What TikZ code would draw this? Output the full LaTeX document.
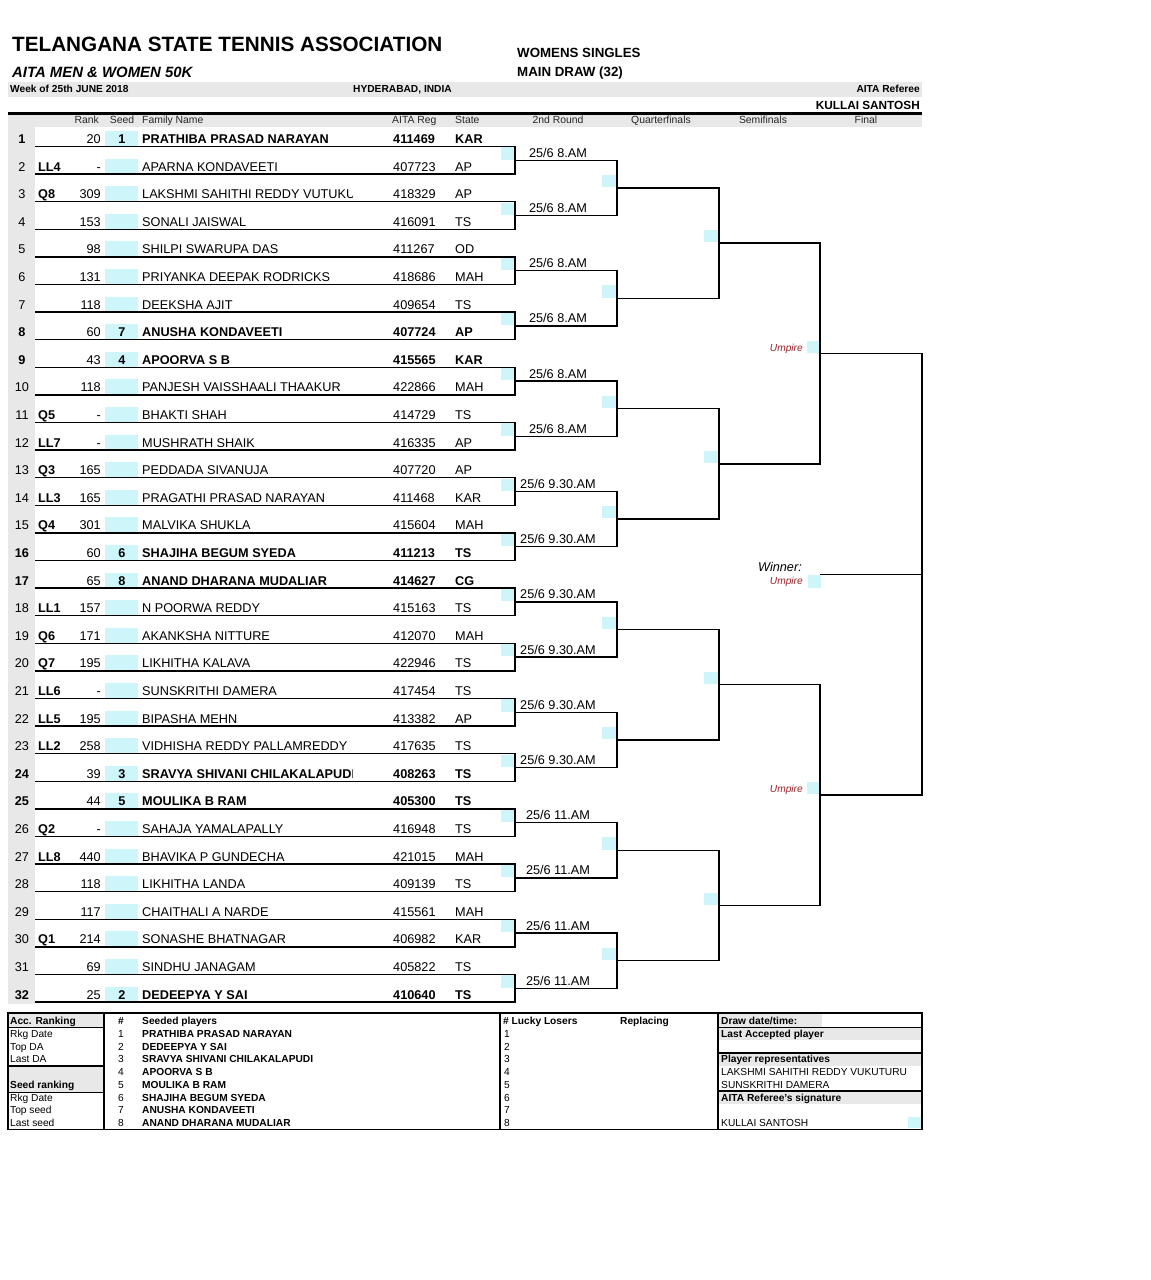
\documentclass[tikz,border=0pt]{standalone}
\usepackage{fontspec}
\setmainfont{Liberation Sans}
\definecolor{seedcyan}{RGB}{205,245,250}
\definecolor{bandgray}{RGB}{232,232,232}
\definecolor{umpred}{RGB}{155,35,45}
\tikzstyle{bline} = [line width=1.5pt, line join=miter]
\tikzstyle{cbox} = [fill=seedcyan]
\newcommand\rowfont{\fontsize{12.7}{15}\selectfont}
\newcommand\hdfont{\fontsize{10.4}{12}\selectfont}
\newcommand\ftfont{\fontsize{10.2}{12}\selectfont}

\begin{document}
\begin{tikzpicture}[x=1pt, y=-1pt,
  cell/.style={inner sep=0pt, text height=9.1pt, text depth=0pt, font=\rowfont},
  hcell/.style={inner sep=0pt, text height=7.4pt, text depth=0pt, font=\hdfont, text=black!85},
  fcell/.style={inner sep=0pt, text height=7.3pt, text depth=0pt, font=\ftfont},
  ump/.style={inner sep=0pt, text height=7.3pt, text depth=0pt, anchor=east, font=\ftfont\itshape, text=umpred}]
\useasboundingbox (0,0) rectangle (1151,1280);
\fill[white] (0,0) rectangle (1151,1280);

% Title block
\node[inner sep=0pt, text height=14.8pt, text depth=0pt, anchor=west, font=\fontsize{20.7}{24}\selectfont\bfseries] (title) at (12,44) {TELANGANA STATE TENNIS ASSOCIATION};
\node[inner sep=0pt, text height=10.7pt, text depth=0pt, anchor=west, font=\fontsize{14.9}{18}\selectfont\bfseries\itshape] (event) at (12,72) {AITA MEN \& WOMEN 50K};
\node[inner sep=0pt, text height=9.5pt, text depth=0pt, anchor=west, font=\fontsize{13.3}{16}\selectfont\bfseries] (draw) at (517,53) {WOMENS SINGLES};
\node[inner sep=0pt, text height=9.5pt, text depth=0pt, anchor=west, font=\fontsize{13.3}{16}\selectfont\bfseries] (size) at (517,72) {MAIN DRAW (32)};

% Bands
\fill[bandgray] (8,82) rectangle (922,97);
\fill[bandgray] (8,114) rectangle (922,127);
\fill[bandgray] (8,127) rectangle (35,1004);
\draw[line width=3pt] (8,113) -- (922,113);
\node[fcell, anchor=west, font=\ftfont\bfseries] (week) at (10,89) {Week of 25th JUNE 2018};
\node[fcell, anchor=west, font=\ftfont\bfseries] (city) at (353,89) {HYDERABAD, INDIA};
\node[fcell, anchor=east, font=\ftfont\bfseries] (ref) at (920,89) {AITA Referee};
\node[inner sep=0pt, text height=8.5pt, text depth=0pt, anchor=east, font=\fontsize{11.8}{14}\selectfont\bfseries] (refname) at (920,105) {KULLAI SANTOSH};

% Column heads
\node[hcell, anchor=east] (hrank) at (99,120) {Rank};
\node[hcell] (hseed) at (122,120) {Seed};
\node[hcell, anchor=west] (hname) at (142,120) {Family Name};
\node[hcell, anchor=west] (hreg) at (392,120) {AITA Reg};
\node[hcell, anchor=west] (hstate) at (455,120) {State};
\node[hcell] (hr2) at (558,120) {2nd Round};
\node[hcell] (hqf) at (661,120) {Quarterfinals};
\node[hcell] (hsf) at (763,120) {Semifinals};
\node[hcell] (hf) at (866,120) {Final};

% Players
\foreach \n/\st/\rk/\sd/\nm/\reg/\sta/\f in {
  1/{}/20/1/PRATHIBA PRASAD NARAYAN/411469/KAR/\bfseries,
  2/LL4/-/{}/APARNA KONDAVEETI/407723/AP/\mdseries,
  3/Q8/309/{}/LAKSHMI SAHITHI REDDY VUTUKURU/418329/AP/\mdseries,
  4/{}/153/{}/SONALI JAISWAL/416091/TS/\mdseries,
  5/{}/98/{}/SHILPI SWARUPA DAS/411267/OD/\mdseries,
  6/{}/131/{}/PRIYANKA DEEPAK RODRICKS/418686/MAH/\mdseries,
  7/{}/118/{}/DEEKSHA AJIT/409654/TS/\mdseries,
  8/{}/60/7/ANUSHA KONDAVEETI/407724/AP/\bfseries,
  9/{}/43/4/APOORVA S B/415565/KAR/\bfseries,
  10/{}/118/{}/PANJESH VAISSHAALI THAAKUR/422866/MAH/\mdseries,
  11/Q5/-/{}/BHAKTI SHAH/414729/TS/\mdseries,
  12/LL7/-/{}/MUSHRATH SHAIK/416335/AP/\mdseries,
  13/Q3/165/{}/PEDDADA SIVANUJA/407720/AP/\mdseries,
  14/LL3/165/{}/PRAGATHI PRASAD NARAYAN/411468/KAR/\mdseries,
  15/Q4/301/{}/MALVIKA SHUKLA/415604/MAH/\mdseries,
  16/{}/60/6/SHAJIHA BEGUM SYEDA/411213/TS/\bfseries,
  17/{}/65/8/ANAND DHARANA MUDALIAR/414627/CG/\bfseries,
  18/LL1/157/{}/N POORWA REDDY/415163/TS/\mdseries,
  19/Q6/171/{}/AKANKSHA NITTURE/412070/MAH/\mdseries,
  20/Q7/195/{}/LIKHITHA KALAVA/422946/TS/\mdseries,
  21/LL6/-/{}/SUNSKRITHI DAMERA/417454/TS/\mdseries,
  22/LL5/195/{}/BIPASHA MEHN/413382/AP/\mdseries,
  23/LL2/258/{}/VIDHISHA REDDY PALLAMREDDY/417635/TS/\mdseries,
  24/{}/39/3/SRAVYA SHIVANI CHILAKALAPUDI/408263/TS/\bfseries,
  25/{}/44/5/MOULIKA B RAM/405300/TS/\bfseries,
  26/Q2/-/{}/SAHAJA YAMALAPALLY/416948/TS/\mdseries,
  27/LL8/440/{}/BHAVIKA P GUNDECHA/421015/MAH/\mdseries,
  28/{}/118/{}/LIKHITHA LANDA/409139/TS/\mdseries,
  29/{}/117/{}/CHAITHALI A NARDE/415561/MAH/\mdseries,
  30/Q1/214/{}/SONASHE BHATNAGAR/406982/KAR/\mdseries,
  31/{}/69/{}/SINDHU JANAGAM/405822/TS/\mdseries,
  32/{}/25/2/DEDEEPYA Y SAI/410640/TS/\bfseries} {
  \pgfmathsetmacro\yy{139+(\n-1)*27.6}
  \fill[cbox] (105,{\yy-8}) rectangle (138,{\yy+6.8});
  \node[cell] (no\n) at (22,\yy) {\f\n};
  \node[cell, anchor=west, font=\rowfont\bfseries] (st\n) at (38,\yy) {\st};
  \node[cell, anchor=east] (rk\n) at (101,\yy) {\rk};
  \node[cell, font=\rowfont\bfseries] (sd\n) at (122,\yy) {\sd};
  \begin{scope}
    \clip (35,{\yy-12}) rectangle (352,{\yy+8});
    \node[cell, anchor=west] (nm\n) at (142,\yy) {\f\nm};
  \end{scope}
  \node[cell, anchor=west] (rg\n) at (393,\yy) {\f\reg};
  \node[cell, anchor=west] (sa\n) at (455,\yy) {\f\sta};
}

% First round
\foreach \k/\tm in {1/8.AM, 2/8.AM, 3/8.AM, 4/8.AM, 5/8.AM, 6/8.AM,
  7/9.30.AM, 8/9.30.AM, 9/9.30.AM, 10/9.30.AM, 11/9.30.AM, 12/9.30.AM,
  13/11.AM, 14/11.AM, 15/11.AM, 16/11.AM} {
  \pgfmathsetmacro\ya{146.5+(\k-1)*55.2}
  \pgfmathsetmacro\yb{\ya+27.6}
  \fill[cbox] (501,{\ya+0.8}) rectangle (514,{\ya+13});
  \draw[bline] (35,\ya) -| (515,\yb) -- (35,\yb);
  \node[cell] (time\k) at (558,{\ya+6.3}) {25/6 \tm};
}

% 2nd round
\foreach \j in {1,...,8} {
  \pgfmathsetmacro\ya{160.3+(\j-1)*110.4}
  \pgfmathsetmacro\yb{\ya+55.2}
  \fill[cbox] (602,{\ya+14.6}) rectangle (616,{\ya+26.8});
  \draw[bline] (515,\ya) -| (617,\yb) -- (515,\yb);
}

% Quarterfinals
\foreach \j in {1,...,4} {
  \pgfmathsetmacro\ya{187.9+(\j-1)*220.8}
  \pgfmathsetmacro\yb{\ya+110.4}
  \fill[cbox] (704,{\ya+42.2}) rectangle (718,{\ya+54.4});
  \draw[bline] (617,\ya) -| (719,\yb) -- (617,\yb);
}

% Semifinals
\foreach \j in {1,2} {
  \pgfmathsetmacro\ya{243.1+(\j-1)*441.6}
  \pgfmathsetmacro\yb{\ya+220.8}
  \fill[cbox] (807,{\ya+97.4}) rectangle (820,{\ya+109.6});
  \draw[bline] (719,\ya) -| (820,\yb) -- (719,\yb);
  \node[ump] (ump\j) at (803,{\ya+104.4}) {Umpire};
}

% Final
\fill[cbox] (808,575) rectangle (821,588);
\draw[bline] (820,353.5) -| (922,795.1) -- (820,795.1);
\draw[bline] (820,574.3) -- (922,574.3);
\node[inner sep=0pt, text height=9.1pt, text depth=0pt, anchor=east, font=\rowfont\itshape] (winner) at (802,567) {Winner:};
\node[ump] (ump3) at (803,581) {Umpire};

% Footer table
\fill[bandgray] (8,1013) rectangle (104,1027);
\fill[bandgray] (8,1066) rectangle (104,1092);
\fill[bandgray] (718,1013) rectangle (822,1027);
\fill[bandgray] (718,1027) rectangle (922,1040);
\fill[bandgray] (718,1053) rectangle (922,1066);
\fill[bandgray] (718,1091) rectangle (922,1104);
\fill[cbox] (908,1117) rectangle (921,1128);
\draw[line width=0.8pt] (8,1027) -- (104,1027);
\draw[line width=0.8pt] (8,1092) -- (104,1092);
\draw[line width=0.8pt] (718,1027) -- (922,1027);
\draw[line width=1.5pt] (8,1066) -- (104,1066);
\draw[line width=1.5pt] (718,1053) -- (922,1053);
\draw[line width=1.5pt] (718,1091) -- (922,1091);
\foreach \x in {104,500,718} \draw[line width=1.5pt] (\x,1013) -- (\x,1129.5);
\draw[line width=1.8pt] (8,1013) rectangle (922,1129.5);

\node[fcell, anchor=west, font=\ftfont\bfseries] (acc) at (10,1021) {Acc. Ranking};
\node[fcell, anchor=west, font=\ftfont\bfseries] (seedrk) at (10,1084.75) {Seed ranking};
\foreach \i/\lb in {1/Rkg Date, 2/Top DA, 3/Last DA, 6/Rkg Date, 7/Top seed, 8/Last seed}
  \node[fcell, anchor=west] (lb\i) at (10,{1021+\i*12.75}) {\lb};

\node[fcell, font=\ftfont\bfseries] (hnum) at (121,1021) {\#};
\node[fcell, anchor=west, font=\ftfont\bfseries] (hseeded) at (142,1021) {Seeded players};
\node[fcell, anchor=west, font=\ftfont\bfseries] (hlucky) at (503,1021) {\# Lucky Losers};
\node[fcell, anchor=west, font=\ftfont\bfseries] (hrepl) at (620,1021) {Replacing};
\foreach \i/\nm in {1/PRATHIBA PRASAD NARAYAN, 2/DEDEEPYA Y SAI, 3/SRAVYA SHIVANI CHILAKALAPUDI,
  4/APOORVA S B, 5/MOULIKA B RAM, 6/SHAJIHA BEGUM SYEDA, 7/ANUSHA KONDAVEETI,
  8/ANAND DHARANA MUDALIAR} {
  \pgfmathsetmacro\yf{1021+\i*12.75}
  \node[fcell] (sn\i) at (121,\yf) {\i};
  \node[fcell, anchor=west, font=\ftfont\bfseries] (sp\i) at (142,\yf) {\nm};
  \node[fcell, anchor=west] (ll\i) at (504,\yf) {\i};
}

\node[fcell, anchor=west, font=\ftfont\bfseries] (ddate) at (721,1021) {Draw date/time:};
\node[fcell, anchor=west, font=\ftfont\bfseries] (lastacc) at (721,1033.75) {Last Accepted player};
\node[fcell, anchor=west, font=\ftfont\bfseries] (preps) at (721,1059.25) {Player representatives};
\node[fcell, anchor=west] (rep1) at (721,1072) {LAKSHMI SAHITHI REDDY VUKUTURU};
\node[fcell, anchor=west] (rep2) at (721,1084.75) {SUNSKRITHI DAMERA};
\node[fcell, anchor=west, font=\ftfont\bfseries] (sign) at (721,1097.5) {AITA Referee's signature};
\node[fcell, anchor=west] (signame) at (721,1123) {KULLAI SANTOSH};
\end{tikzpicture}
\end{document}
